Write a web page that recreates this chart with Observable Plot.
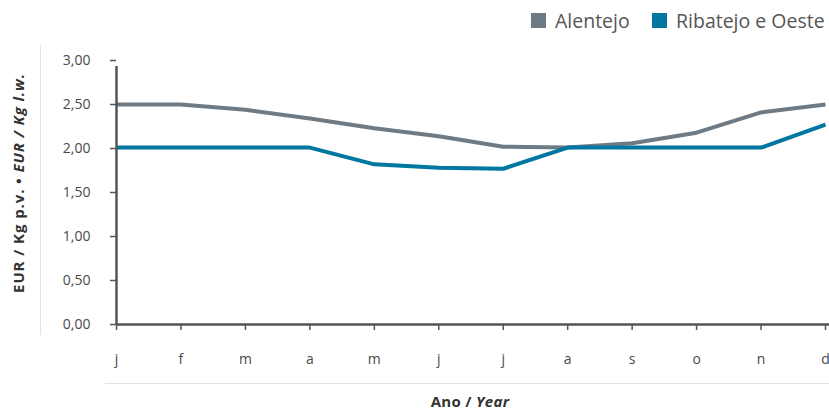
<!DOCTYPE html>
<html><head><meta charset="utf-8">
<script src="https://cdn.jsdelivr.net/npm/d3@7"></script>
<script src="https://cdn.jsdelivr.net/npm/@observablehq/plot@0.6"></script>
<style>
body{margin:0;background:#fff;font-family:"Open Sans",Lato,sans-serif;}
#wrap{position:relative;width:829px;height:410px;}
.leg{position:absolute;top:7px;font-size:19.5px;color:#555;display:flex;align-items:center;}
.sw{display:inline-block;width:15px;height:15px;margin-right:9px;}
.sep-v{position:absolute;left:40px;top:45px;width:1px;height:290px;background:#e2e2e2;}
.sep-h{position:absolute;left:105px;top:383px;width:724px;height:1px;background:#e2e2e2;}
.xlab{position:absolute;top:391px;left:390px;width:160px;text-align:center;font-size:15px;font-weight:bold;color:#333;letter-spacing:0.3px;}
.ylab{position:absolute;left:18px;top:183px;transform:translate(-50%,-50%) rotate(-90deg);white-space:nowrap;font-size:15px;font-weight:bold;color:#333;letter-spacing:0.9px;}
</style></head><body>
<div id="wrap">
<div id="chart"></div>
<div class="sep-v"></div><div class="sep-h"></div>
<div class="leg" style="left:531px"><span class="sw" style="background:#6e7b85"></span>Alentejo</div>
<div class="leg" style="left:652px"><span class="sw" style="background:#0077a0"></span>Ribatejo e Oeste</div>
<div class="xlab">Ano / <i>Year</i></div>
<div class="ylab">EUR / Kg p.v. • <i>EUR / Kg l.w.</i></div>
</div>
<script>
const months = ["j","f","m","a","m","j","j","a","s","o","n","d"];
const alentejo = [2.50,2.50,2.44,2.34,2.23,2.14,2.02,2.01,2.06,2.18,2.41,2.50];
const ribatejo = [2.01,2.01,2.01,2.01,1.82,1.78,1.77,2.01,2.01,2.01,2.01,2.27];
const seriesNames = ["Alentejo","Ribatejo e Oeste"];
const colors = ["#6e7b85","#0077a0"];
const yTicks = [0,0.5,1,1.5,2,2.5,3];

const data = [];
months.forEach((m,i)=>{
  data.push({i, v: alentejo[i], s: seriesNames[0]});
  data.push({i, v: ribatejo[i], s: seriesNames[1]});
});
const idx = months.map((_,i)=>i);
const fmt = d => d.toFixed(2).replace(".",",");

const chart = Plot.plot({
  width: 829, height: 410,
  marginLeft: 116, marginRight: 4, marginTop: 60, marginBottom: 86,
  style: {fontFamily: "'Open Sans', Lato, sans-serif", fontSize: "14px", color: "#4a4a4a", background: "transparent"},
  x: {type: "point", domain: idx, padding: 0, round: false},
  y: {domain: [0,3]},
  color: {domain: seriesNames, range: colors},
  marks: [
    Plot.axisY({ticks: yTicks, tickFormat: fmt, tickSize: 6, tickPadding: 20, stroke: "#555", strokeWidth: 1.5, label: null, fontSize: 14}),
    Plot.axisX({ticks: idx, tickFormat: i => months[i], tickSize: 6, tickPadding: 24, stroke: "#555", strokeWidth: 1.5, label: null, fontSize: 14}),
    Plot.line(data, {x: "i", y: "v", stroke: "s", strokeWidth: 4, strokeLinejoin: "miter", strokeLinecap: "butt"}),
    Plot.ruleY([0], {stroke: "#555", strokeWidth: 2.5, insetRight: -4}),
    Plot.ruleX([0], {y1: 0, y2: 3, stroke: "#555", strokeWidth: 2.5, insetBottom: -6})
  ]
});
document.getElementById("chart").appendChild(chart);
</script>
</body></html>
